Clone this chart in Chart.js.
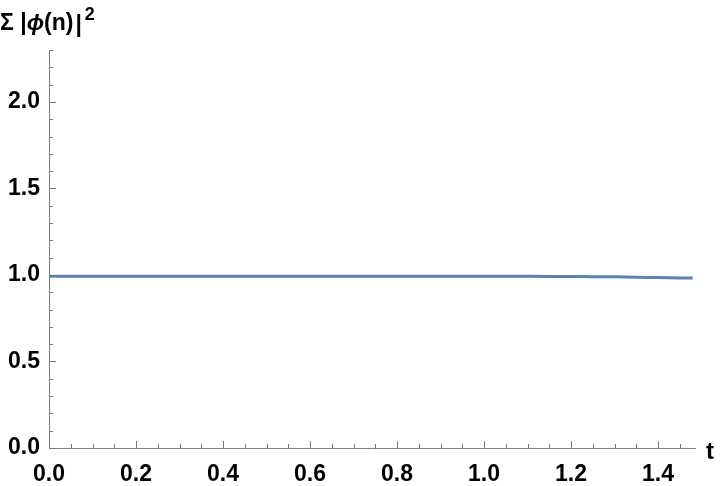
<!DOCTYPE html>
<html>
<head>
<meta charset="utf-8">
<script src="https://cdn.jsdelivr.net/npm/chart.js@4"></script>
<style>
    html, body { margin: 0; padding: 0; background: #fff; }
    #wrap { width: 720px; height: 486px; position: relative; }
</style>
</head>
<body>
<div id="wrap"><canvas id="normChart"></canvas></div>
<script>
const tValues = [0, 0.1, 0.2, 0.3, 0.4, 0.5, 0.6, 0.7, 0.8, 0.9, 1.0, 1.1, 1.2, 1.25, 1.3, 1.35, 1.4, 1.45, 1.48];
const normValues = [0.992, 0.992, 0.992, 0.992, 0.992, 0.992, 0.992, 0.992, 0.992, 0.992, 0.992, 0.992, 0.991, 0.990, 0.989, 0.987, 0.985, 0.983, 0.982];
const xTicks = [0, 0.2, 0.4, 0.6, 0.8, 1.0, 1.2, 1.4];
const yTicks = [0, 0.5, 1.0, 1.5, 2.0];

const axisColor = '#7a7a7a';
const fontFamily = 'Liberation Sans, Arial, sans-serif';
const labelFont = { family: fontFamily, size: 23, weight: 'bold' };

// Mathematica style ticks pointing into the plot, with minor ticks
const innerTicks = {
    id: 'innerTicks',
    afterDraw(chart) {
        const ctx = chart.ctx;
        const xs = chart.scales.x, ys = chart.scales.y;
        const area = chart.chartArea;
        ctx.save();
        ctx.strokeStyle = axisColor;
        ctx.lineWidth = 1;
        ctx.beginPath();
        for (let i = 0; i <= 29; i++) {
            const px = Math.round(xs.getPixelForValue(i * 0.05)) + 0.5;
            const len = i % 4 === 0 ? 7 : 4;
            ctx.moveTo(px, area.bottom);
            ctx.lineTo(px, area.bottom - len);
        }
        for (let i = 0; i <= 23; i++) {
            const py = Math.round(ys.getPixelForValue(i * 0.1)) + 0.5;
            const len = i % 5 === 0 ? 7 : 4;
            ctx.moveTo(area.left, py);
            ctx.lineTo(area.left + len, py);
        }
        ctx.stroke();

        // axis labels
        ctx.fillStyle = '#000';
        ctx.textBaseline = 'alphabetic';
        ctx.textAlign = 'left';
        const base = 30;
        let x = 0;
        ctx.font = 'bold 23px ' + fontFamily;
        ctx.fillText('Σ |', x, base);
        x += ctx.measureText('Σ |').width;
        ctx.font = 'bold italic 23px ' + fontFamily;
        ctx.fillText('ϕ', x, base);
        x += ctx.measureText('ϕ').width;
        ctx.font = 'bold 23px ' + fontFamily;
        ctx.fillText('(n)', x, base);
        x += ctx.measureText('(n)').width + 2;
        ctx.fillText('|', x, base + 2);
        x += ctx.measureText('|').width + 3;
        ctx.font = 'bold 18px ' + fontFamily;
        ctx.fillText('2', x, 20);

        ctx.font = 'bold 24px ' + fontFamily;
        ctx.textBaseline = 'middle';
        ctx.fillText('t', area.right + 11, area.bottom + 4);
        ctx.restore();
    }
};

const ctx = document.getElementById('normChart').getContext('2d');
new Chart(ctx, {
    type: 'line',
    data: {
        datasets: [{
            data: tValues.map((t, i) => ({ x: t, y: normValues[i] })),
            borderColor: '#5e81b5',
            borderWidth: 3,
            pointRadius: 0,
            tension: 0.3,
            fill: false
        }]
    },
    options: {
        responsive: true,
        maintainAspectRatio: false,
        animation: false,
        layout: { padding: { top: 50, right: 25, left: 0, bottom: 0 } },
        plugins: {
            legend: { display: false },
            tooltip: { enabled: false }
        },
        scales: {
            x: {
                type: 'linear',
                min: 0,
                max: 1.485,
                afterBuildTicks: s => { s.ticks = xTicks.map(v => ({ value: v })); },
                afterFit: s => { s.height = 38; },
                grid: { display: false, drawTicks: false },
                border: { display: true, color: axisColor, width: 1 },
                ticks: {
                    color: '#000',
                    font: labelFont,
                    padding: 13,
                    maxRotation: 0,
                    callback: v => v.toFixed(1)
                }
            },
            y: {
                min: 0,
                max: 2.3,
                afterBuildTicks: s => { s.ticks = yTicks.map(v => ({ value: v })); },
                afterFit: s => { s.width = 49; },
                grid: { display: false, drawTicks: false },
                border: { display: true, color: axisColor, width: 1 },
                ticks: {
                    color: '#000',
                    font: labelFont,
                    padding: 9,
                    callback: v => v.toFixed(1)
                }
            }
        }
    },
    plugins: [innerTicks]
});
</script>
</body>
</html>
